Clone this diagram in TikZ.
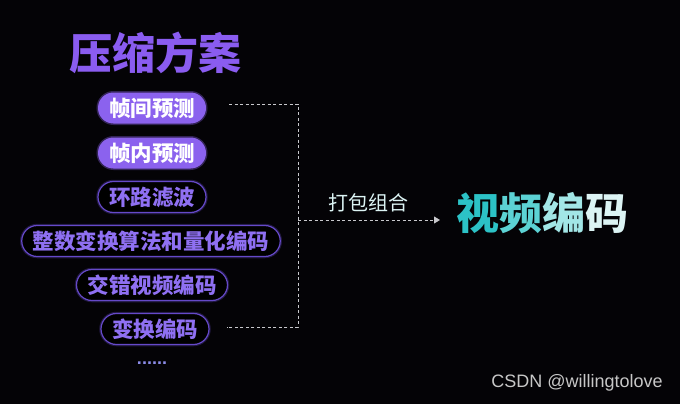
\documentclass[tikz,border=0pt]{standalone}
\usepackage{fontspec}
\newfontfamily\cjk{Noto Sans CJK SC}
\setsansfont{Liberation Sans}
\usetikzlibrary{arrows.meta}

\definecolor{bgdark}{HTML}{040306}
\definecolor{titleviolet}{HTML}{8A5CF0}
\definecolor{pillviolet}{HTML}{8B62EE}
\definecolor{pillrim}{HTML}{6549C8}
\definecolor{pilltext}{HTML}{8F70F2}
\definecolor{dashgray}{HTML}{C8C8CC}
\definecolor{dotviolet}{HTML}{8C8CE8}
\definecolor{cyanA}{HTML}{2CC2C6}
\definecolor{cyanB}{HTML}{5CD2D4}
\definecolor{cyanC}{HTML}{A2E6E6}
\definecolor{cyanD}{HTML}{DCF4F4}

\begin{document}
\begin{tikzpicture}[x=1pt,y=-1pt,
  pillbase/.style={rectangle, rounded corners=15.5pt, minimum height=31pt, inner xsep=11pt,
    font=\cjk\bfseries\fontsize{21.5}{21.5}\selectfont},
  pillfill/.style={pillbase, fill=pillviolet, text=white,
    preaction={draw=pillviolet, line width=3pt, opacity=0.35}},
  pillline/.style={pillbase, draw=pillrim, line width=1.2pt, fill=black, text=pilltext,
    preaction={draw=pillrim, line width=3.5pt, opacity=0.3}},
  dashline/.style={draw=dashgray, line width=0.9pt, dash pattern=on 3pt off 2.5pt}]
\fill[bgdark] (0,0) rectangle (680,404);

% left column
\node[font=\cjk\bfseries\fontsize{43}{43}\selectfont, text=titleviolet] (title) at (155,53) {压缩方案};
\node[pillfill] (inter) at (152,108) {帧间预测};
\node[pillfill] (intra) at (152,153) {帧内预测};
\node[pillline] (loop) at (152,197) {环路滤波};
\node[pillline] (quant) at (151,241) {整数变换算法和量化编码};
\node[pillline] (interlace) at (152,285) {交错视频编码};
\node[pillline] (trans) at (155,329) {变换编码};
\node[font=\sffamily\bfseries\fontsize{18}{18}\selectfont, text=dotviolet, anchor=base] (more) at (152,364) {......};

% bracket and arrow
\coordinate (btop) at (298,104);
\coordinate (bbot) at (298,327);
\coordinate (bmid) at (298,220);
\coordinate (atip) at (440,220);
\draw[dashline] ([xshift=23pt,yshift=4pt]inter.east) -- (btop) -- (bbot) -- ([xshift=17pt,yshift=2pt]trans.east);
\draw[dashline, -{Triangle[length=6pt,width=7pt]}] (bmid) -- (atip);
\node[font=\cjk\fontsize{20}{20}\selectfont, text=cyanD] (pack) at (368,203) {打包组合};

% result
\node[font=\cjk\bfseries\fontsize{43}{43}\selectfont] (codec) at (542,213)
  {\textcolor{cyanA}{视}\textcolor{cyanB}{频}\textcolor{cyanC}{编}\textcolor{cyanD}{码}};

\node[font=\sffamily\fontsize{18}{18}\selectfont, text=black!22] (mark) at (577,383) {CSDN @willingtolove};
\end{tikzpicture}
\end{document}
